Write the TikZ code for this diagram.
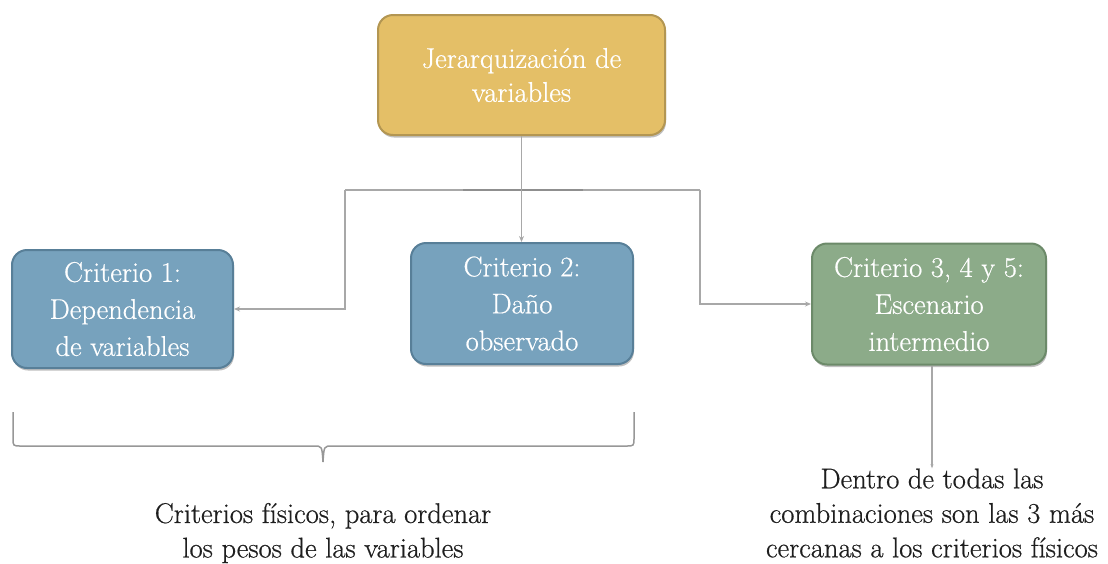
\documentclass[tikz,border=0pt]{standalone}
\usepackage{fontspec}
\newfontfamily\lmh{Latin Modern Roman}[FakeBold=0.6]
\usetikzlibrary{arrows.meta,shadows}
\definecolor{goldfill}{HTML}{E4BF67}
\definecolor{golddraw}{HTML}{B39652}
\definecolor{bluefill}{HTML}{77A2BD}
\definecolor{bluedraw}{HTML}{587F98}
\definecolor{greenfill}{HTML}{8CAB89}
\definecolor{greendraw}{HTML}{6C8A69}
\definecolor{linegray}{HTML}{A8A8A8}
\definecolor{txt}{HTML}{1E1E1E}
\tikzset{
  box/.style={draw, line width=2pt, rounded corners=15pt, align=center, text=white,
    font=\lmh\fontsize{28.5}{37}\selectfont, inner sep=0pt,
    drop shadow={shadow xshift=1pt, shadow yshift=-2.5pt, opacity=0.25, fill=black}},
  goldbox/.style={box, fill=goldfill, draw=golddraw},
  bluebox/.style={box, fill=bluefill, draw=bluedraw},
  greenbox/.style={box, fill=greenfill, draw=greendraw},
  conn/.style={draw=linegray, line width=1.3pt},
  arr/.style={conn, -{Stealth[length=6pt,width=5pt]}},
  note/.style={align=center, text=txt, font=\lmh\fontsize{28.5}{34.5}\selectfont, inner sep=0pt}
}
\begin{document}
\begin{tikzpicture}[x=1pt,y=-1pt]
\useasboundingbox (0,0) rectangle (1108,563);
\node[goldbox, minimum width=287pt, minimum height=120pt, font=\lmh\fontsize{28.5}{34}\selectfont] (top) at (521.5,75) {Jerarquización de\\variables};
\node[bluebox, minimum width=221pt, minimum height=118pt] (c1) at (122.5,309) {Criterio 1:\\Dependencia\\de variables};
\node[bluebox, minimum width=222pt, minimum height=121pt] (c2) at (522,303.5) {Criterio 2:\\Daño\\observado};
\node[greenbox, minimum width=234pt, minimum height=121pt] (c3) at (929,304) {Criterio 3, 4 y 5:\\Escenario\\intermedio};
\coordinate (bl) at (345,190);
\coordinate (br) at (700,190);
\coordinate (hm1) at (463,190);
\coordinate (hm2) at (583,190);
\draw[conn] (bl) -- (br);
\draw[draw=linegray!85!black, line width=2.6pt] (hm1) -- (hm2);
\draw[arr] (top.south) -- (top.south |- c2.north);
\draw[arr] (bl) |- (c1.east);
\draw[arr] (br) |- (c3.west);
\node[note] (n1) at (323,533) {Criterios físicos, para ordenar\\los pesos de las variables};
\node[note] (n2) at (932,513) {Dentro de todas las\\combinaciones son las 3 más\\cercanas a los criterios físicos};
\draw[arr, line width=1.1pt, -{Stealth[length=4pt,width=3pt]}] (c3.south -| 932,0) -- (n2.north -| 932,0);
\coordinate (bL) at (13,412);
\coordinate (bR) at (634,412);
\coordinate (bT) at (323,462);
\draw[draw=linegray!90!black, line width=1.5pt]
  (bL) -- (13,438) .. controls (13,446) .. (21,446) -- (314,446)
  .. controls (322,446) .. (323,462)
  (bR) -- (634,438) .. controls (634,446) .. (626,446) -- (332,446)
  .. controls (324,446) .. (bT);
\end{tikzpicture}
\end{document}
